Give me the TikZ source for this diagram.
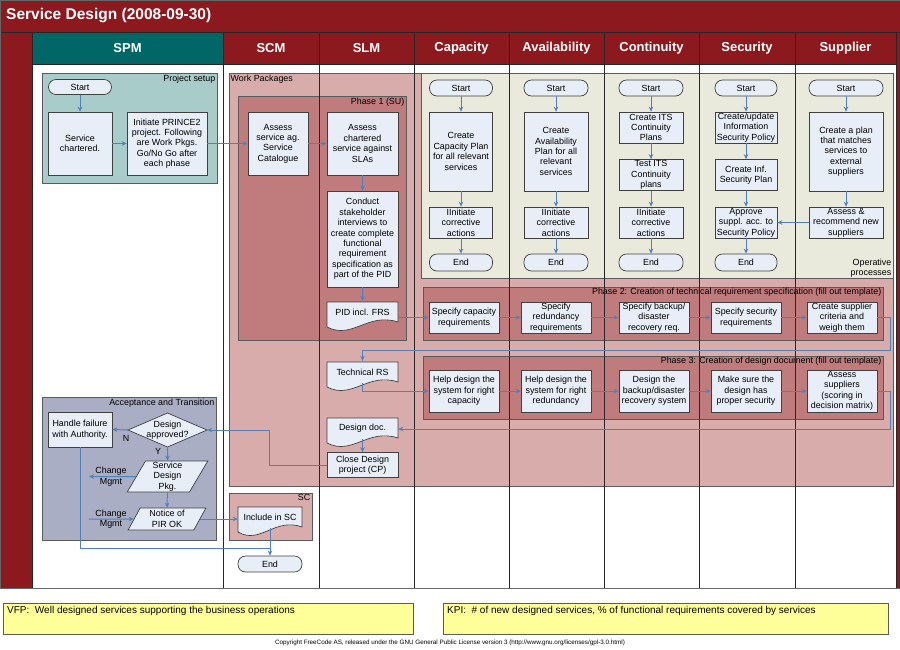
\documentclass[tikz,border=0pt]{standalone}
\usepackage{fontspec}
\setmainfont{Liberation Sans}
\usetikzlibrary{shapes.geometric, arrows.meta}

\definecolor{darkred}{RGB}{140,25,30}
\definecolor{headteal}{RGB}{0,102,102}
\definecolor{setupfill}{RGB}{167,204,202}
\definecolor{wpfill}{RGB}{217,172,172}
\definecolor{phasefill}{RGB}{192,124,124}
\definecolor{opfill}{RGB}{233,234,219}
\definecolor{accfill}{RGB}{170,174,196}
\definecolor{nodefill}{RGB}{232,238,248}
\definecolor{boxline}{RGB}{64,64,64}
\definecolor{grpline}{RGB}{90,90,90}
\definecolor{arrowblue}{RGB}{79,129,189}
\definecolor{notefill}{RGB}{255,255,153}

\newcommand{\boxfont}{\fontsize{8.9}{10.4}\selectfont}
\newcommand{\headfont}{\fontsize{13}{15}\selectfont\bfseries}
% document shape: x, top, half width
\newcommand{\docshape}[3]{%
  \filldraw[draw=boxline, fill=nodefill, line width=0.7pt] (#1-#3,#2) -- (#1+#3,#2) -- (#1+#3,#2+20)
    .. controls (#1+5,#2+10) and (#1-10,#2+38) .. (#1-#3,#2+25) -- cycle;}

\begin{document}
\begin{tikzpicture}[x=1pt, y=-1pt,
  box/.style={draw=boxline, fill=nodefill, line width=0.7pt, align=center, font=\boxfont, inner sep=1pt},
  pill/.style={box, rounded corners=7.5pt},
  doctext/.style={align=center, font=\boxfont, inner sep=0pt, minimum height=22},
  slant/.style={box, trapezium, trapezium stretches=true, inner sep=0pt},
  flow/.style={draw=arrowblue, line width=1pt},
  arr/.style={flow, ->, >={Stealth[length=5pt, width=4.5pt]}},
  group/.style={fill=#1, draw=grpline, line width=0.6pt},
  grouplabel/.style={font=\boxfont, inner sep=1.5pt},
  headtext/.style={font=\headfont, text=white},
  colline/.style={draw=black!85, line width=0.8pt},
  note/.style={draw=grpline, fill=notefill, line width=0.8pt},
  notetext/.style={font=\fontsize{10}{12}\selectfont, inner sep=0pt}
]
\useasboundingbox (0,0) rectangle (900,649);

% Draw background and frame
\fill[white] (0,0) rectangle (900,649);
\fill[darkred] (0,0) rectangle (900,588);
\fill[white] (32,64) rectangle (896,588);
\fill[headteal] (32,32) rectangle (223,64);
\node[font=\fontsize{15.5}{18}\selectfont\bfseries, text=white, anchor=west, inner sep=0pt] (title) at (6,16) {Service Design (2008-09-30)};

% Draw column headers
\node[headtext] (hspm) at (127.5,48) {SPM};
\node[headtext] (hscm) at (271,48) {SCM};
\node[headtext] (hslm) at (366.5,48) {SLM};
\node[headtext] (hcap) at (461.5,48) {Capacity};
\node[headtext] (hava) at (556.5,48) {Availability};
\node[headtext] (hcon) at (651.5,48) {Continuity};
\node[headtext] (hsec) at (747,48) {Security};
\node[headtext] (hsup) at (845.5,48) {Supplier};

% Draw groups
\path[group=setupfill] (42,73) rectangle (217,183);
\node[grouplabel, anchor=north east] (lsetup) at (217,73) {Project setup};
\path[group=wpfill] (229,73) rectangle (893,486);
\node[grouplabel, anchor=north west] (lwp) at (229,73) {Work Packages};
\path[group=phasefill] (238,96) rectangle (406,340);
\node[grouplabel, anchor=north east] (lph1) at (406,96) {Phase 1 (SU)};
\path[group=opfill] (421,73) rectangle (893,278);
\node[grouplabel, anchor=south east, align=right] (lop) at (893,279) {Operative\\processes};
\path[group=phasefill] (423,287) rectangle (883,340);
\node[grouplabel, anchor=north east] (lph2) at (883,286) {Phase 2: Creation of technical requirement specification (fill out template)};
\path[group=phasefill] (423,356) rectangle (883,419);
\node[grouplabel, anchor=north east] (lph3) at (883,355) {Phase 3: Creation of design document (fill out template)};
\path[group=accfill] (42,397) rectangle (216,540);
\node[grouplabel, anchor=north east] (lacc) at (216,397) {Acceptance and Transition};
\path[group=wpfill] (229,493) rectangle (312,540);
\node[grouplabel, anchor=north east] (lsc) at (312,493) {SC};

% Draw column lines
\draw[colline] (0,32) -- (900,32);
\draw[colline] (32,64) -- (896,64);
\draw[colline] (32,32) -- (32,588);
\draw[colline] (223,32) -- (223,588);
\draw[colline] (319,32) -- (319,588);
\draw[colline] (414,32) -- (414,588);
\draw[colline] (509,32) -- (509,588);
\draw[colline] (604,32) -- (604,588);
\draw[colline] (699,32) -- (699,588);
\draw[colline] (795,32) -- (795,588);
\draw[colline] (896,32) -- (896,588);
\draw[black!60, line width=1pt] (0,0) rectangle (900,588);

% SPM, SCM and SLM steps
\node[pill, minimum width=63, minimum height=15] (spmstart) at (80,87) {Start};
\node[box, minimum width=64, minimum height=63] (chartered) at (80,143.5) {Service\\chartered.};
\node[box, minimum width=80, minimum height=63] (prince) at (167,143.5) {Initiate PRINCE2\\project. Following\\are Work Pkgs.\\Go/No Go after\\each phase};
\node[box, minimum width=60, minimum height=63] (catalogue) at (278,143.5) {Assess\\service ag.\\Service\\Catalogue};
\node[box, minimum width=71, minimum height=63] (slas) at (362.5,143.5) {Assess\\chartered\\service against\\SLAs};
\node[box, minimum width=71, minimum height=96] (interviews) at (362.5,239) {Conduct\\stakeholder\\interviews to\\create complete\\functional\\requirement\\specification as\\part of the PID};
\docshape{362.5}{302}{35.5}
\node[doctext, minimum width=71] (pid) at (362.5,312) {PID incl. FRS};
\docshape{362.5}{362}{35.5}
\node[doctext, minimum width=71] (techrs) at (362.5,372) {Technical RS};
\docshape{362.5}{418}{35.5}
\node[doctext, minimum width=71] (designdoc) at (362.5,428) {Design doc.};
\node[box, minimum width=71, minimum height=25] (closecp) at (362.5,465) {Close Design\\project (CP)};

% Operative processes
\node[pill, minimum width=63, minimum height=16] (capstart) at (461,88) {Start};
\node[box, minimum width=63, minimum height=79] (capplan) at (461,151.5) {Create\\Capacity Plan\\for all relevant\\services};
\node[box, minimum width=63, minimum height=31] (capfix) at (461,222.5) {IInitiate\\corrective\\actions};
\node[pill, minimum width=63, minimum height=17] (capend) at (461,262.5) {End};

\node[pill, minimum width=64, minimum height=16] (avastart) at (556,88) {Start};
\node[box, minimum width=64, minimum height=79] (avaplan) at (556,151.5) {Create\\Availability\\Plan for all\\relevant\\services};
\node[box, minimum width=64, minimum height=31] (avafix) at (556,222.5) {IInitiate\\corrective\\actions};
\node[pill, minimum width=64, minimum height=17] (avaend) at (556,262.5) {End};

\node[pill, minimum width=64, minimum height=16] (constart) at (651,88) {Start};
\node[box, minimum width=64, minimum height=31] (conplan) at (651,127.5) {Create ITS\\Continuity\\Plans};
\node[box, minimum width=64, minimum height=31] (contest) at (651,175) {Test ITS\\Continuity\\plans};
\node[box, minimum width=64, minimum height=31] (confix) at (651,222.5) {IInitiate\\corrective\\actions};
\node[pill, minimum width=64, minimum height=17] (conend) at (651,262.5) {End};

\node[pill, minimum width=62, minimum height=16] (secstart) at (746,88) {Start};
\node[box, minimum width=62, minimum height=31] (secpolicy) at (746,127.5) {Create/update\\Information\\Security Policy};
\node[box, minimum width=62, minimum height=31] (secplan) at (746,175) {Create Inf.\\Security Plan};
\node[box, minimum width=62, minimum height=31] (secappr) at (746,222.5) {Approve\\suppl. acc. to\\Security Policy};
\node[pill, minimum width=62, minimum height=17] (secend) at (746,262.5) {End};

\node[pill, minimum width=74, minimum height=16] (supstart) at (846,88) {Start};
\node[box, minimum width=74, minimum height=79] (supplan) at (846,151.5) {Create a plan\\that matches\\services to\\external\\suppliers};
\node[box, minimum width=74, minimum height=31] (supassess) at (846,222.5) {Assess \&\\recommend new\\suppliers};

% Phase 2 and phase 3
\node[box, minimum width=70, minimum height=31] (cap2) at (464,317.5) {Specify capacity\\requirements};
\node[box, minimum width=70, minimum height=31] (ava2) at (556,317.5) {Specify\\redundancy\\requirements};
\node[box, minimum width=70, minimum height=31] (con2) at (654,317.5) {Specify backup/\\disaster\\recovery req.};
\node[box, minimum width=70, minimum height=31] (sec2) at (746,317.5) {Specify security\\requirements};
\node[box, minimum width=70, minimum height=31] (sup2) at (842,317.5) {Create supplier\\criteria and\\weigh them};
\node[box, minimum width=70, minimum height=42] (cap3) at (464,391) {Help design the\\system for right\\capacity};
\node[box, minimum width=70, minimum height=42] (ava3) at (556,391) {Help design the\\system for right\\redundancy};
\node[box, minimum width=70, minimum height=42] (con3) at (654,391) {Design the\\backup/disaster\\recovery system};
\node[box, minimum width=70, minimum height=42] (sec3) at (746,391) {Make sure the\\design has\\proper security};
\node[box, minimum width=70, minimum height=42] (sup3) at (842,391) {Assess\\suppliers\\(scoring in\\decision matrix)};
\coordinate (p2out) at (890,350);
\coordinate (p3out) at (890,429);

% Acceptance and transition
\node[box, minimum width=64, minimum height=35] (failure) at (80,429.5) {Handle failure\\with Authority.};
\filldraw[draw=boxline, fill=nodefill, line width=0.7pt] (128,430) -- (167.5,413) -- (207,430) -- (167.5,447) -- cycle;
\node[align=center, font=\boxfont, inner sep=0pt, minimum width=79, minimum height=34] (approved) at (167.5,430) {Design\\approved?};
\node[slant, trapezium left angle=67, trapezium right angle=113, minimum width=81, minimum height=31] (pkg) at (167.5,476.5) {Service\\Design\\Pkg.};
\node[slant, trapezium left angle=65, trapezium right angle=115, minimum width=78, minimum height=22] (notice) at (167,519) {Notice of\\PIR OK};
\node[grouplabel] (nlabel) at (126,438) {N};
\node[grouplabel] (ylabel) at (158,451) {Y};
\coordinate (chg1end) at (89,476.5);
\coordinate (chg2start) at (89,519);
\coordinate (merge) at (270,548);
\docshape{270}{507}{32}
\node[doctext, minimum width=64] (inclsc) at (270,517) {Include in SC};
\node[pill, minimum width=64, minimum height=16] (scend) at (270,564) {End};

% Draw connectors
\draw[arr] (spmstart) -- (chartered);
\draw[arr] (chartered) -- (prince);
\draw[arr] (prince) -- (catalogue);
\draw[arr] (catalogue) -- (slas);
\draw[arr] (slas) -- (interviews);
\draw[arr] (interviews) -- (pid);
\draw[arr] (pid.east |- cap2) -- (cap2);
\draw[arr] (cap2) -- (ava2);
\draw[arr] (ava2) -- (con2);
\draw[arr] (con2) -- (sec2);
\draw[arr] (sec2) -- (sup2);
\draw[arr] (sup2.east) -| (p2out) -| (techrs.north);
\draw[arr] (techrs.south) |- (cap3.west);
\draw[arr] (cap3) -- (ava3);
\draw[arr] (ava3) -- (con3);
\draw[arr] (con3) -- (sec3);
\draw[arr] (sec3) -- (sup3);
\draw[arr] (sup3.east) -| (p3out) -- (p3out -| designdoc.east);
\draw[arr] (designdoc) -- (closecp);
\draw[arr] (closecp.west) -- ++(-57,0) |- (approved.east);

\draw[arr] (capstart) -- (capplan);
\draw[arr] (capplan) -- (capfix);
\draw[arr] (capfix) -- (capend);
\draw[arr] (avastart) -- (avaplan);
\draw[arr] (avaplan) -- (avafix);
\draw[arr] (avafix) -- (avaend);
\draw[arr] (constart) -- (conplan);
\draw[arr] (conplan) -- (contest);
\draw[arr] (contest) -- (confix);
\draw[arr] (confix) -- (conend);
\draw[arr] (secstart) -- (secpolicy);
\draw[arr] (secpolicy) -- (secplan);
\draw[arr] (secplan) -- (secappr);
\draw[arr] (secappr) -- (secend);
\draw[arr] (supstart) -- (supplan);
\draw[arr] (supplan) -- (supassess);
\draw[arr] (supassess) -- (secappr);

\draw[arr] (approved.west) -- (failure.east);
\draw[arr] (approved.south) -- (pkg.north);
\draw[arr] (pkg) -- (notice);
\draw[arr] (pkg.west) -- (chg1end);
\draw[arr] (chg2start) -- (notice.west);
\draw[arr] (notice.east) -- (notice.east -| inclsc.west);
\draw[arr] (inclsc.south) -- (scend);
\draw[flow] (failure.south) |- (merge);
\node[align=center, font=\boxfont, inner sep=0pt] (chg1) at (111,476.5) {Change\\Mgmt};
\node[align=center, font=\boxfont, inner sep=0pt] (chg2) at (111,519) {Change\\Mgmt};

% Draw notes
\filldraw[note] (3,603) rectangle (413,634);
\node[notetext, anchor=west] (vfp) at (7,611) {VFP:\ \ Well designed services supporting the business operations};
\filldraw[note] (443,603) rectangle (888,634);
\node[notetext, anchor=west] (kpi) at (447,611) {KPI:\ \ \# of new designed services, \% of functional requirements covered by services};
\node[font=\fontsize{6.3}{7}\selectfont, inner sep=0pt] (copy) at (450,643) {Copyright FreeCode AS, released under the GNU General Public License version 3 (http://www.gnu.org/licenses/gpl-3.0.html)};
\end{tikzpicture}
\end{document}
